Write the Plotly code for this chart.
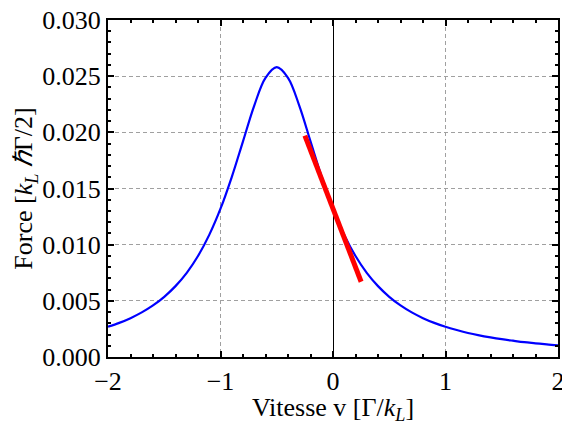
import plotly.graph_objects as go

# Data
v = [-2.0, -1.9, -1.8, -1.7, -1.6, -1.5, -1.4, -1.3, -1.2, -1.1,
     -1.0, -0.9, -0.8, -0.7, -0.6, -0.5, -0.4, -0.3, -0.2, -0.1,
     0.0, 0.1, 0.2, 0.3, 0.4, 0.5, 0.6, 0.7, 0.8, 0.9,
     1.0, 1.1, 1.2, 1.3, 1.4, 1.5, 1.6, 1.7, 1.8, 1.9, 2.0]
force = [0.00269, 0.00304, 0.00346, 0.00397, 0.00459, 0.00536, 0.00631, 0.00749, 0.00899, 0.01087,
         0.01320, 0.01602, 0.01920, 0.02238, 0.02485, 0.02580, 0.02485, 0.02238, 0.01920, 0.01602,
         0.01320, 0.01087, 0.00899, 0.00749, 0.00631, 0.00536, 0.00459, 0.00397, 0.00346, 0.00304,
         0.00269, 0.00240, 0.00214, 0.00193, 0.00175, 0.00159, 0.00145, 0.00132, 0.00122, 0.00112, 0.00104]

tangent_v = [-0.25, 0.25]
tangent_f = [0.0197, 0.0067]

x_ticks = [-2, -1, 0, 1, 2]
x_ticklabels = ["\u22122", "\u22121", "0", "1", "2"]
y_ticks = [0.000, 0.005, 0.010, 0.015, 0.020, 0.025, 0.030]
y_ticklabels = ["0.000", "0.005", "0.010", "0.015", "0.020", "0.025", "0.030"]

fig = go.Figure()
fig.add_trace(go.Scatter(x=v, y=force, mode="lines", line=dict(color="#0000ff", width=2.2, shape="spline"),
                         showlegend=False, hoverinfo="skip"))
fig.add_trace(go.Scatter(x=tangent_v, y=tangent_f, mode="lines", line=dict(color="#ff0000", width=5),
                         showlegend=False, hoverinfo="skip"))

font_family = "Liberation Serif"
fs = 26
fig.update_layout(
    width=562, height=425,
    margin=dict(l=108, r=4, t=20, b=68),
    paper_bgcolor="white", plot_bgcolor="white",
    font=dict(family=font_family, size=fs, color="black"),
    xaxis=dict(
        range=[-2, 2], tickvals=x_ticks, ticktext=x_ticklabels,
        ticklabeloverflow="allow", automargin=False,
        showline=True, linecolor="black", linewidth=2, mirror="allticks",
        ticks="inside", ticklen=6, tickwidth=1.5, tickcolor="black",
        minor=dict(dtick=0.2, ticks="inside", ticklen=3, tickcolor="black", showgrid=False),
        showgrid=True, gridcolor="#a0a0a0", griddash="4px,3px", gridwidth=1,
        zeroline=True, zerolinecolor="black", zerolinewidth=1,
        title=dict(text="Vitesse v [\u0393/<i>k<sub>L</sub></i>]", standoff=4,
                   font=dict(family=font_family, size=fs)),
        tickfont=dict(family=font_family, size=fs),
    ),
    yaxis=dict(
        range=[0, 0.030], tickvals=y_ticks, ticktext=y_ticklabels,
        ticklabeloverflow="allow", automargin=False,
        showline=True, linecolor="black", linewidth=2, mirror="allticks",
        ticks="inside", ticklen=6, tickwidth=1.5, tickcolor="black",
        minor=dict(dtick=0.001, ticks="inside", ticklen=3, tickcolor="black", showgrid=False),
        showgrid=True, gridcolor="#a0a0a0", griddash="4px,3px", gridwidth=1,
        zeroline=False,
        title=dict(text="Force [<i>k<sub>L</sub></i> <i>\u210f</i>\u0393/2]", standoff=2,
                   font=dict(family=font_family, size=fs)),
        tickfont=dict(family=font_family, size=fs),
    ),
)

fig.write_html("out.html")
